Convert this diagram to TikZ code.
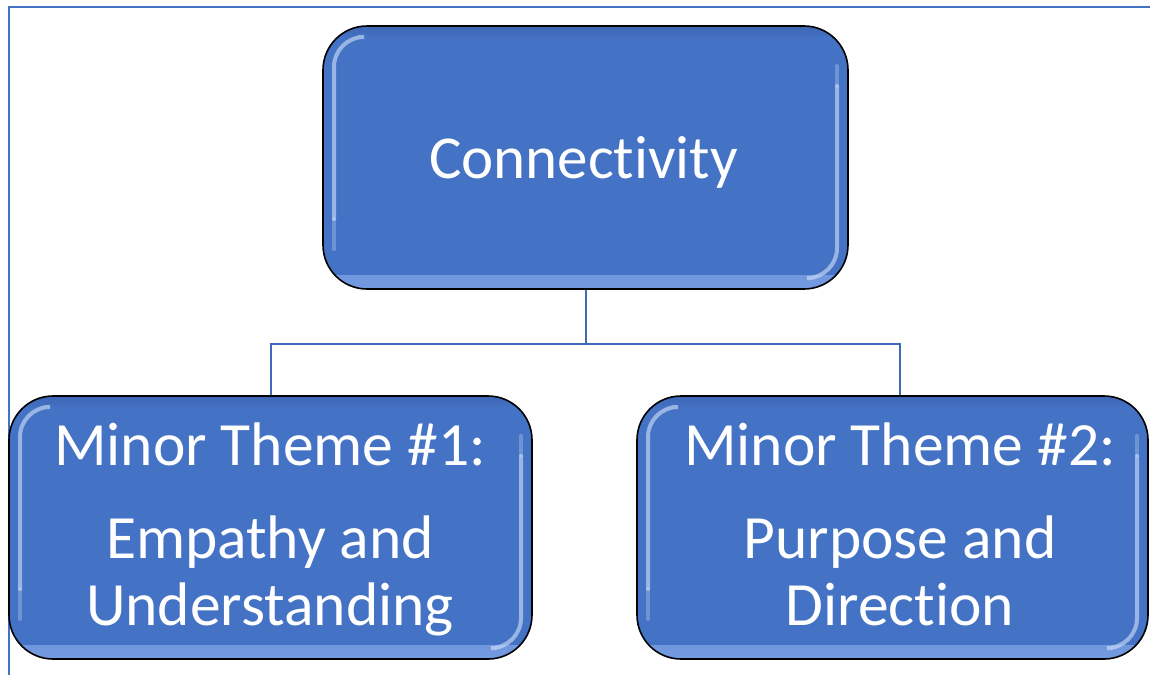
\documentclass[tikz,border=0pt]{standalone}
\usepackage{fontspec}
\setmainfont{Carlito}[Ligatures={NoCommon}]
\usetikzlibrary{calc}
\definecolor{mainblue}{HTML}{4472C4}
\definecolor{rimlight}{HTML}{739AE0}
\definecolor{rimdark}{HTML}{3D67B5}
\definecolor{stripe}{HTML}{D2E3FB}
\definecolor{framecol}{HTML}{4472C4}
\definecolor{conncol}{HTML}{3F6AB8}
\begin{document}
\begin{tikzpicture}[x=1pt,y=-1pt,
  glossy/.style={draw=black, line width=1.6pt, fill=mainblue, rounded corners=44pt, inner sep=0pt,
    path picture={
      \shade[top color=mainblue, bottom color=rimlight, rounded corners=0pt]
        ($(path picture bounding box.south west)+(0pt,14pt)$) rectangle (path picture bounding box.south east);
      \shade[top color=rimdark, bottom color=mainblue, rounded corners=0pt]
        (path picture bounding box.north west) rectangle ($(path picture bounding box.north east)+(0pt,-12pt)$);
      \draw[stripe, line width=4pt, line cap=round, opacity=.6, rounded corners=30pt]
        ($(path picture bounding box.north west)+(36pt,-11pt)$) --
        ($(path picture bounding box.north west)+(11pt,-11pt)$) --
        ($(path picture bounding box.south west)+(11pt,70pt)$);
      \draw[stripe, line width=4pt, line cap=round, opacity=.3]
        ($(path picture bounding box.south west)+(11pt,70pt)$) --
        ($(path picture bounding box.south west)+(11pt,40pt)$);
      \draw[stripe, line width=4pt, line cap=round, opacity=.3]
        ($(path picture bounding box.north east)+(-11pt,-40pt)$) --
        ($(path picture bounding box.north east)+(-11pt,-60pt)$);
      \draw[stripe, line width=4pt, line cap=round, opacity=.6, rounded corners=30pt]
        ($(path picture bounding box.north east)+(-11pt,-60pt)$) --
        ($(path picture bounding box.south east)+(-11pt,11pt)$) --
        ($(path picture bounding box.south east)+(-36pt,11pt)$);
    }},
  lbl/.style={text=white, inner sep=0pt, anchor=base, font=\fontsize{61.5}{70}\selectfont},
  conn/.style={draw=conncol, line width=2pt}
]
\useasboundingbox (0,0) rectangle (1150,675);
\fill[white] (0,0) rectangle (1150,675);
\draw[framecol, line width=1.6pt] (9,675) -- (9,7) -- (1150,7);

\node[glossy, minimum width=525pt, minimum height=263pt] (top) at (585.5,157.5) {};
\node[glossy, minimum width=523pt, minimum height=263pt] (left) at (270.5,527.5) {};
\node[glossy, minimum width=511pt, minimum height=263pt] (right) at (892.5,527.5) {};

\node[lbl, font=\fontsize{61}{70}\selectfont] (t1) at (583.5,178) {Connect\kern0pt ivity};
\node[lbl] (l1) at (270,465) {Minor Theme \#1:};
\node[lbl] (l2) at (270,558) {Empathy and};
\node[lbl] (l3) at (270,625) {Understanding};
\node[lbl] (r1) at (900,465) {Minor Theme \#2:};
\node[lbl] (r2) at (900,558) {Purpose and};
\node[lbl] (r3) at (900,625) {Direc\kern0pt tion};

\draw[conn] (top.south) -- ++(0,54) coordinate (hub);
\draw[conn] (hub) -| (left.north);
\draw[conn] (hub) -| (right.north -| r1);
\end{tikzpicture}
\end{document}
